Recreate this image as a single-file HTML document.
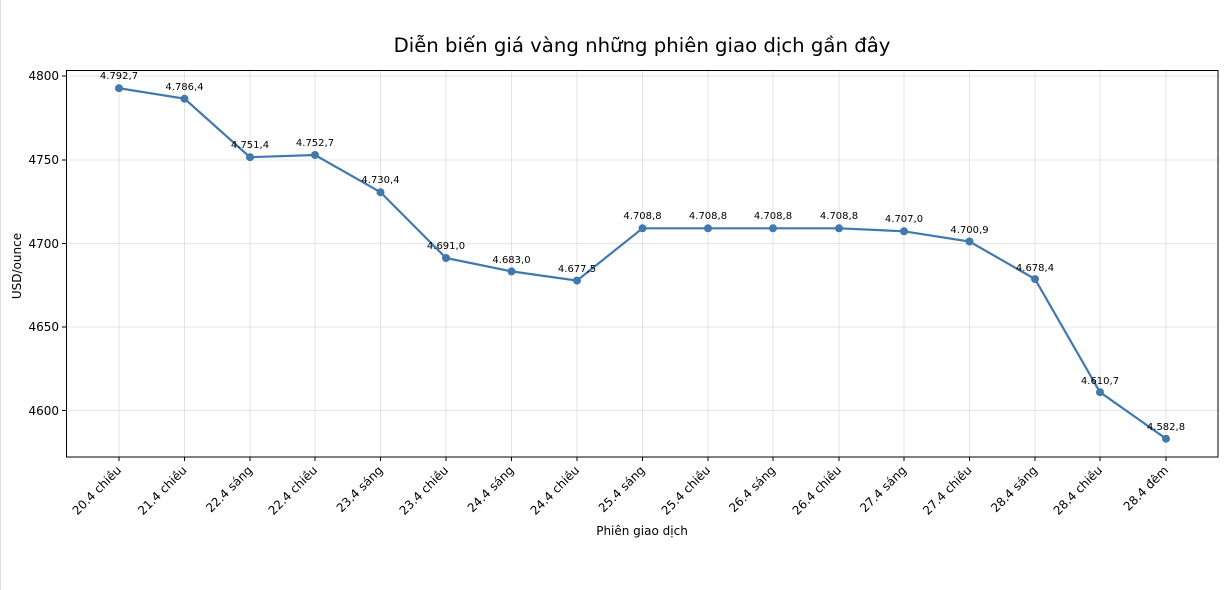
<!DOCTYPE html>
<html><head><meta charset="utf-8"><style>
html,body{margin:0;padding:0;background:#fff;}
svg{display:block;font-family:"DejaVu Sans","Liberation Sans",sans-serif;}
</style></head><body>
<svg width="1226" height="590" viewBox="0 0 1226 590" xmlns="http://www.w3.org/2000/svg">
<rect x="0" y="0" width="1226" height="590" fill="#fff"/>
<line x1="0.5" y1="0" x2="0.5" y2="590" stroke="#ddd"/>
<text x="642" y="52" font-size="19.7" text-anchor="middle" fill="#000">Diễn biến giá vàng những phiên giao dịch gần đây</text>
<g stroke="#dcdcdc" stroke-width="0.8">
<line x1="66" y1="76" x2="1218" y2="76"/><line x1="66" y1="160" x2="1218" y2="160"/><line x1="66" y1="243.5" x2="1218" y2="243.5"/><line x1="66" y1="327" x2="1218" y2="327"/><line x1="66" y1="410.5" x2="1218" y2="410.5"/>
<line x1="119" y1="70" x2="119" y2="457"/><line x1="184.5" y1="70" x2="184.5" y2="457"/><line x1="250" y1="70" x2="250" y2="457"/><line x1="315" y1="70" x2="315" y2="457"/><line x1="380.5" y1="70" x2="380.5" y2="457"/><line x1="446" y1="70" x2="446" y2="457"/><line x1="511.5" y1="70" x2="511.5" y2="457"/><line x1="577" y1="70" x2="577" y2="457"/><line x1="642.5" y1="70" x2="642.5" y2="457"/><line x1="708" y1="70" x2="708" y2="457"/><line x1="773" y1="70" x2="773" y2="457"/><line x1="839" y1="70" x2="839" y2="457"/><line x1="904" y1="70" x2="904" y2="457"/><line x1="969.5" y1="70" x2="969.5" y2="457"/><line x1="1035" y1="70" x2="1035" y2="457"/><line x1="1100" y1="70" x2="1100" y2="457"/><line x1="1166" y1="70" x2="1166" y2="457"/>
</g>
<rect x="66.5" y="70.5" width="1151.5" height="386.5" fill="none" stroke="#000" stroke-width="1"/>
<g stroke="#000" stroke-width="1">
<line x1="62" y1="76" x2="66" y2="76"/><line x1="62" y1="160" x2="66" y2="160"/><line x1="62" y1="243.5" x2="66" y2="243.5"/><line x1="62" y1="327" x2="66" y2="327"/><line x1="62" y1="410.5" x2="66" y2="410.5"/>
</g>
<g font-size="12" text-anchor="end" fill="#000">
<text x="59" y="80">4800</text><text x="59" y="164">4750</text><text x="59" y="248">4700</text><text x="59" y="331">4650</text><text x="59" y="415">4600</text>
</g>
<text transform="translate(21,266) rotate(-90)" font-size="12" text-anchor="middle">USD/ounce</text>
<text x="642" y="535" font-size="12" text-anchor="middle">Phiên giao dịch</text>
<g stroke="#000" stroke-width="1">
<line x1="119" y1="457" x2="119" y2="461"/><line x1="184.5" y1="457" x2="184.5" y2="461"/><line x1="250" y1="457" x2="250" y2="461"/><line x1="315" y1="457" x2="315" y2="461"/><line x1="380.5" y1="457" x2="380.5" y2="461"/><line x1="446" y1="457" x2="446" y2="461"/><line x1="511.5" y1="457" x2="511.5" y2="461"/><line x1="577" y1="457" x2="577" y2="461"/><line x1="642.5" y1="457" x2="642.5" y2="461"/><line x1="708" y1="457" x2="708" y2="461"/><line x1="773" y1="457" x2="773" y2="461"/><line x1="839" y1="457" x2="839" y2="461"/><line x1="904" y1="457" x2="904" y2="461"/><line x1="969.5" y1="457" x2="969.5" y2="461"/><line x1="1035" y1="457" x2="1035" y2="461"/><line x1="1100" y1="457" x2="1100" y2="461"/><line x1="1166" y1="457" x2="1166" y2="461"/>
</g>
<g font-size="12" text-anchor="end" fill="#000">
<text transform="translate(122,471) rotate(-45)">20.4 chiều</text>
<text transform="translate(187.5,471) rotate(-45)">21.4 chiều</text>
<text transform="translate(253,471) rotate(-45)">22.4 sáng</text>
<text transform="translate(318,471) rotate(-45)">22.4 chiều</text>
<text transform="translate(383.5,471) rotate(-45)">23.4 sáng</text>
<text transform="translate(449,471) rotate(-45)">23.4 chiều</text>
<text transform="translate(514.5,471) rotate(-45)">24.4 sáng</text>
<text transform="translate(580,471) rotate(-45)">24.4 chiều</text>
<text transform="translate(645.5,471) rotate(-45)">25.4 sáng</text>
<text transform="translate(711,471) rotate(-45)">25.4 chiều</text>
<text transform="translate(776,471) rotate(-45)">26.4 sáng</text>
<text transform="translate(842,471) rotate(-45)">26.4 chiều</text>
<text transform="translate(907,471) rotate(-45)">27.4 sáng</text>
<text transform="translate(972.5,471) rotate(-45)">27.4 chiều</text>
<text transform="translate(1038,471) rotate(-45)">28.4 sáng</text>
<text transform="translate(1103,471) rotate(-45)">28.4 chiều</text>
<text transform="translate(1169,471) rotate(-45)">28.4 đêm</text>
</g>
<polyline fill="none" stroke="#4178ad" stroke-width="2.2" points="119,88.2 184.5,98.7 250,157.2 315,155 380.5,192.2 446,258 511.5,271.4 577,280.6 642.5,228.3 708,228.3 773,228.3 839,228.3 904,231.3 969.5,241.5 1035,279.1 1100,392.2 1166,438.7"/>
<g fill="#4178ad">
<circle cx="119" cy="88.2" r="4"/><circle cx="184.5" cy="98.7" r="4"/><circle cx="250" cy="157.2" r="4"/><circle cx="315" cy="155" r="4"/><circle cx="380.5" cy="192.2" r="4"/><circle cx="446" cy="258" r="4"/><circle cx="511.5" cy="271.4" r="4"/><circle cx="577" cy="280.6" r="4"/><circle cx="642.5" cy="228.3" r="4"/><circle cx="708" cy="228.3" r="4"/><circle cx="773" cy="228.3" r="4"/><circle cx="839" cy="228.3" r="4"/><circle cx="904" cy="231.3" r="4"/><circle cx="969.5" cy="241.5" r="4"/><circle cx="1035" cy="279.1" r="4"/><circle cx="1100" cy="392.2" r="4"/><circle cx="1166" cy="438.7" r="4"/>
</g>
<g font-size="10" text-anchor="middle" fill="#000">
<text x="119" y="79">4.792,7</text><text x="184.5" y="90">4.786,4</text><text x="250" y="148">4.751,4</text><text x="315" y="146">4.752,7</text><text x="380.5" y="183">4.730,4</text><text x="446" y="249">4.691,0</text><text x="511.5" y="263">4.683,0</text><text x="577" y="272">4.677,5</text><text x="642.5" y="219">4.708,8</text><text x="708" y="219">4.708,8</text><text x="773" y="219">4.708,8</text><text x="839" y="219">4.708,8</text><text x="904" y="222">4.707,0</text><text x="969.5" y="233">4.700,9</text><text x="1035" y="271">4.678,4</text><text x="1100" y="384">4.610,7</text><text x="1166" y="430">4.582,8</text>
</g>
</svg>
</body></html>
